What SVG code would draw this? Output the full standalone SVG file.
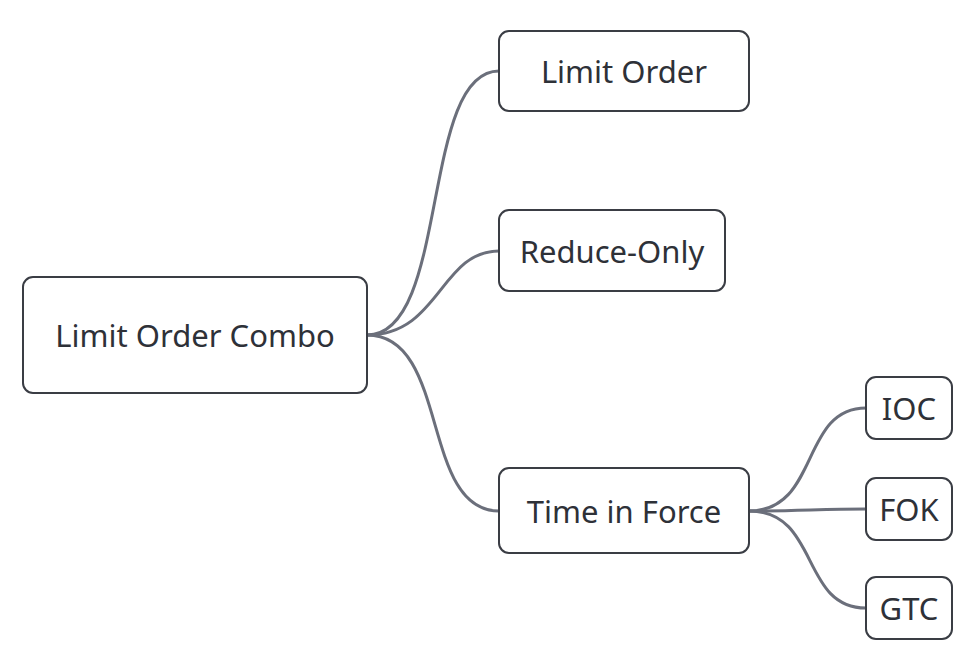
<svg xmlns="http://www.w3.org/2000/svg" width="979" height="659" viewBox="0 0 979 659">
<style>
.n{fill:#fff;stroke:#3a3d44;stroke-width:2}
.t{font-family:"Noto Sans","Open Sans",sans-serif;font-size:31px;fill:#2e3138;text-anchor:middle;dominant-baseline:central}
.c{fill:none;stroke:#6b6f7b;stroke-width:3}
</style>
<rect width="979" height="659" fill="#fff"/>
<g id="connectors">
<path class="c" d="M367,335 C450,335 420,71 499,71"/>
<path class="c" d="M367,335 C440,335 440,251 499,251"/>
<path class="c" d="M367,335 C450,335 420,511 499,511"/>
<path class="c" d="M749,511 C820,511 800,408 866,408"/>
<path class="c" d="M749,511 C800,511 820,509 866,509"/>
<path class="c" d="M749,511 C820,511 800,608 866,608"/>
</g>
<g id="root"><rect class="n" x="23" y="277" width="344" height="116" rx="10"/><text class="t" x="195" y="335">Limit Order Combo</text></g>
<g id="limit"><rect class="n" x="499" y="31" width="250" height="80" rx="10"/><text class="t" x="624" y="71">Limit Order</text></g>
<g id="reduce"><rect class="n" x="499" y="210" width="226" height="81" rx="10"/><text class="t" x="612" y="251">Reduce-Only</text></g>
<g id="tif"><rect class="n" x="499" y="468" width="250" height="85" rx="10"/><text class="t" x="624" y="511">Time in Force</text></g>
<g id="ioc"><rect class="n" x="866" y="377" width="86" height="62" rx="10"/><text class="t" x="909" y="408">IOC</text></g>
<g id="fok"><rect class="n" x="866" y="478" width="86" height="62" rx="10"/><text class="t" x="909" y="509">FOK</text></g>
<g id="gtc"><rect class="n" x="866" y="577" width="86" height="62" rx="10"/><text class="t" x="909" y="608">GTC</text></g>
</svg>
